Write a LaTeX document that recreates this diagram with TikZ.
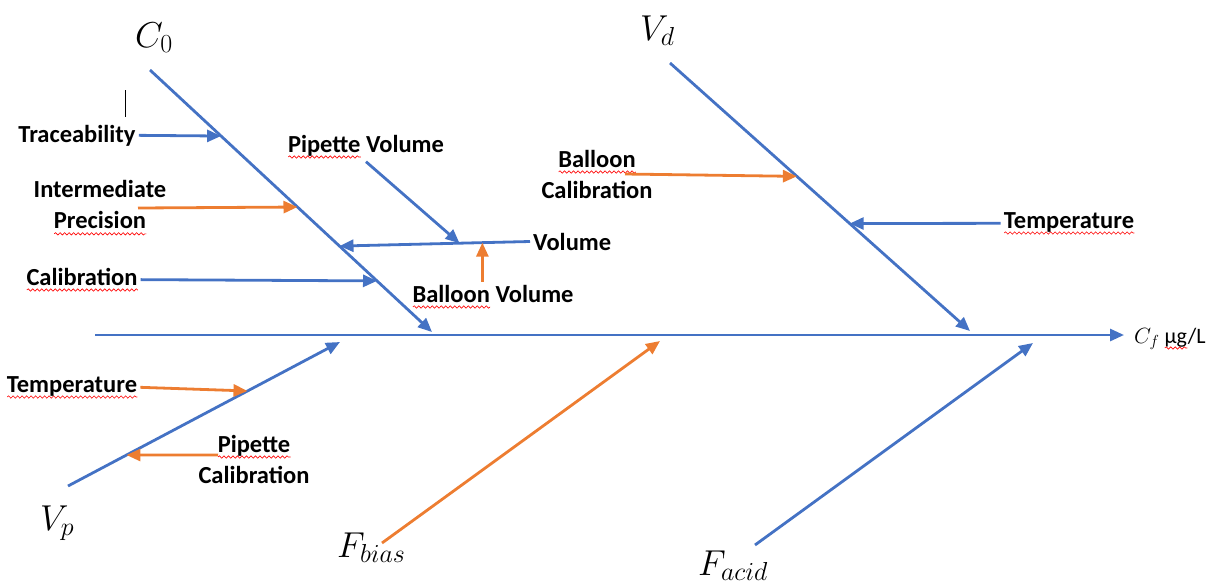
\RequirePackage{fix-cm}
\documentclass[tikz,border=0pt]{standalone}
\usepackage[no-math]{fontspec}
\setmainfont{Carlito}
\usetikzlibrary{arrows.meta, calc, decorations.pathmorphing}

\definecolor{boneblue}{HTML}{4472C4}
\definecolor{causeorange}{HTML}{ED7D31}
\DeclareMathSizes{36}{36}{26}{20}
\DeclareMathSizes{22}{22}{16}{12}

\newlength\spellwd
\newcommand\spell[1]{\settowidth\spellwd{#1}%
  \rlap{\tikz[baseline=0pt]\draw[red, line width=0.6pt, decorate,
    decoration={snake, amplitude=1.2pt, segment length=4.5pt}]
    (0pt,-5pt) -- (\spellwd,-5pt);}#1}

\tikzset{
  bone/.style={draw=boneblue, line width=2.8pt, -{Triangle[length=14pt, width=12pt]}},
  obone/.style={bone, draw=causeorange},
  cause/.style={font=\fontsize{24.5}{31}\selectfont\bfseries, align=center, inner sep=3pt},
  factor/.style={font=\fontsize{36}{40}\selectfont, inner sep=0pt, anchor=base west},
}

\begin{document}
\begin{tikzpicture}[x=1pt, y=-1pt]
  \useasboundingbox (0,0) rectangle (1214,587);

  \coordinate (tail) at (95,335);
  \coordinate (C0s) at (150,70);
  \coordinate (C0e) at (432,332);
  \coordinate (Vds) at (670,63);
  \coordinate (Vde) at (970,331);
  \coordinate (Vps) at (68,486);
  \coordinate (Vpe) at (340,342);
  \coordinate (Fbs) at (382,543);
  \coordinate (Fbe) at (660,341);
  \coordinate (Fas) at (755,545);
  \coordinate (Fae) at (1033,343);

  \node[anchor=base west, inner sep=0pt, font=\fontsize{22}{26}\selectfont]
    (Cf) at (1134,343) {$C_f$ \spell{µg}/L};
  \node[factor] (C0) at (135,47) {$C_0$};
  \node[factor] (Vd) at (640,40) {$V_d$};
  \node[factor] (Vp) at (40,530) {$V_p$};
  \node[factor] (Fbias) at (337,557) {$F_{bias}$};
  \node[factor] (Facid) at (698,575) {$F_{acid}$};

  \draw[bone, shorten >=10pt] (tail) -- (tail -| Cf.west);
  \draw[bone] (C0s) -- (C0e);
  \draw[bone] (Vds) -- (Vde);
  \draw[bone] (Vps) -- (Vpe);
  \draw[obone] (Fbs) -- (Fbe);
  \draw[bone] (Fas) -- (Fae);

  \node[cause, anchor=base] (trace) at (77,142) {Traceability};
  \draw[bone] (trace.east) -- ($(C0s)!0.252!(C0e)$);
  \draw (125,90) -- (125,117);

  \node[cause] (interm) at (100,208) {Intermediate\\\spell{Precision}};
  \draw[obone] ([xshift=38pt]interm.center) -- ($(C0s)!0.523!(C0e)$);

  \node[cause, anchor=base] (calib) at (82,285) {\spell{Calibration}};
  \draw[bone] (calib.east) -- ($(C0s)!0.805!(C0e)$);

  \coordinate (volL) at ($(C0s)!0.672!(C0e)$);
  \node[cause, anchor=base west] (vol) at (530,250) {Volume};
  \draw[bone] (vol.west) -- (volL);

  \node[cause, anchor=base] (pipvol) at (366,152) {\spell{Pipette} Volume};
  \draw[bone] (pipvol.south) -- ($(volL)!0.63!(vol.west)$);

  \node[cause, anchor=base] (balvol) at (493,302) {\spell{Balloon} Volume};
  \coordinate (balvolE) at ($(volL)!0.75!(vol.west)$);
  \draw[obone] (balvolE |- balvol.north) -- (balvolE);

  \node[cause] (balcal) at (597,174) {\spell{Balloon}\\Calibration};
  \draw[obone] ([xshift=28pt]balcal.center) -- ($(Vds)!0.423!(Vde)$);

  \node[cause, anchor=base] (tempR) at (1069,228) {\spell{Temperature}};
  \draw[bone] (tempR.west) -- ($(Vds)!0.599!(Vde)$);

  \node[cause, anchor=base] (tempL) at (72,392) {\spell{Temperature}};
  \draw[obone] (tempL.east) -- ($(Vps)!0.66!(Vpe)$);

  \node[cause] (pipcal) at (254,459) {\spell{Pipette}\\Calibration};
  \draw[obone] ([xshift=-36pt, yshift=4pt]pipcal.center) -- ($(Vps)!0.215!(Vpe)$);
\end{tikzpicture}
\end{document}
